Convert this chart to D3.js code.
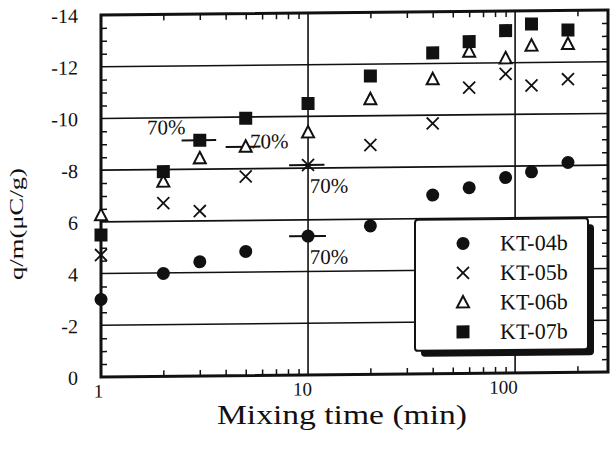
<!DOCTYPE html>
<html>
<head>
<meta charset="utf-8">
<script src="https://cdn.jsdelivr.net/npm/d3@7"></script>
<style>
  body { margin: 0; background: #fff; }
  svg { display: block; }
  text { font-family: "Liberation Serif", "Times New Roman", serif; fill: #111; }
</style>
</head>
<body>
<div id="chart"></div>
<script>
// mixing time (min)
const mixTimes = [1, 2, 3, 5, 10, 20, 40, 60, 90, 120, 180];
// q/m values (uC/g)
const kt04b = [-3.0, -3.98, -4.42, -4.8, -5.37, -5.74, -6.91, -7.18, -7.56, -7.77, -8.12];
const kt05b = [-4.72, -6.7, -6.38, -7.7, -8.12, -8.87, -9.68, -11.05, -11.57, -11.11, -11.34];
const kt06b = [-6.26, -7.53, -8.42, -8.85, -9.38, -10.64, -11.39, -12.44, -12.17, -12.65, -12.7];
const kt07b = [-5.49, -7.92, -9.12, -9.95, -10.5, -11.54, -12.41, -12.83, -13.24, -13.49, -13.24];
const seriesNames = ["KT-04b", "KT-05b", "KT-06b", "KT-07b"];

// horizontal range bars: [series, time, from, to]
const rangeBars = [
    ["KT-07b", 3, 2.45, 3.6],
    ["KT-06b", 5, 4.0, 5.9],
    ["KT-05b", 10, 8.1, 12.0],
    ["KT-04b", 10, 8.1, 12.2]
];
// "70%" notes: [time, q/m] of text start/baseline
const notes = [[1.67, -9.36], [5.25, -8.78], [10.2, -7.04], [10.2, -4.29]];

const yMajor = [0, -2, -4, -6, -8, -10, -12, -14];
const yTickLabels = ["0", "-2", "4", "6", "-8", "-10", "-12", "-14"];
const xMajor = [1, 10, 100];
const xTickLabels = ["1", "10", "100"];

const W = 611, H = 452;
const margin = { top: 15, right: 3, bottom: 75, left: 101 };
const innerW = W - margin.left - margin.right;
const innerH = H - margin.top - margin.bottom;

const svg = d3.select("#chart").append("svg")
    .attr("width", W)
    .attr("height", H);

// the scan is slightly tilted, right side higher
const plot = svg.append("g")
    .attr("transform", `translate(${margin.left},${margin.top}) skewY(-0.565)`);

const x = d3.scaleLog().domain([1, 281]).range([0, innerW]);
const y = d3.scaleLinear().domain([0, -14]).range([innerH, 0]);

const yMinor = d3.range(0, -14.01, -0.5).filter(v => !yMajor.includes(v));
const xMinor = [2, 3, 4, 5, 6, 7, 8, 9, 20, 30, 40, 50, 60, 70, 80, 90, 200];

// grid
plot.append("g").selectAll("line.hgrid")
    .data(yMajor.filter(v => v !== 0 && v !== -14))
    .join("line")
    .attr("x1", 0).attr("x2", innerW)
    .attr("y1", d => y(d)).attr("y2", d => y(d))
    .attr("stroke", "#111").attr("stroke-width", 1.6);

plot.append("g").selectAll("line.vgrid")
    .data([10, 100])
    .join("line")
    .attr("x1", d => x(d)).attr("x2", d => x(d))
    .attr("y1", 0).attr("y2", innerH)
    .attr("stroke", "#111").attr("stroke-width", 1.6);

// minor ticks, all pointing inward
const tickStyle = g => {
    g.select(".domain").remove();
    g.selectAll(".tick line").attr("stroke", "#111").attr("stroke-width", 1.5);
};
plot.append("g")
    .call(d3.axisRight(y).tickValues(yMinor).tickSize(6).tickFormat(""))
    .call(tickStyle);
plot.append("g")
    .attr("transform", `translate(${innerW},0)`)
    .call(d3.axisLeft(y).tickValues(yMinor).tickSize(6).tickFormat(""))
    .call(tickStyle);
plot.append("g")
    .call(d3.axisBottom(x).tickValues(xMinor).tickSize(6).tickFormat(""))
    .call(tickStyle);
plot.append("g")
    .attr("transform", `translate(0,${innerH})`)
    .call(d3.axisTop(x).tickValues(xMinor).tickSize(6).tickFormat(""))
    .call(tickStyle);

// tick labels
const yAxis = plot.append("g")
    .call(d3.axisLeft(y).tickValues(yMajor).tickSize(0).tickPadding(23)
        .tickFormat((d, i) => yTickLabels[i]));
yAxis.select(".domain").remove();
yAxis.selectAll("text").style("font-size", "20px").attr("dy", "0.35em");

const xAxis = plot.append("g")
    .attr("transform", `translate(0,${innerH})`)
    .call(d3.axisBottom(x).tickValues(xMajor).tickSize(0).tickPadding(7)
        .tickFormat((d, i) => xTickLabels[i]));
xAxis.select(".domain").remove();
xAxis.selectAll("text").style("font-size", "19px")
    .attr("dx", (d, i) => [-3, -6, -12][i]);

// frame
plot.append("rect")
    .attr("width", innerW).attr("height", innerH)
    .attr("fill", "none").attr("stroke", "#111").attr("stroke-width", 3);

// range bars
const seriesValues = { "KT-04b": kt04b, "KT-05b": kt05b, "KT-06b": kt06b, "KT-07b": kt07b };
plot.append("g").selectAll("line.range")
    .data(rangeBars)
    .join("line")
    .attr("x1", d => x(d[2])).attr("x2", d => x(d[3]))
    .attr("y1", d => y(seriesValues[d[0]][mixTimes.indexOf(d[1])]))
    .attr("y2", d => y(seriesValues[d[0]][mixTimes.indexOf(d[1])]))
    .attr("stroke", "#111").attr("stroke-width", 2);

// markers
function drawMarker(sel, name) {
    if (name === "KT-04b") {
        sel.append("circle").attr("r", 6.5).attr("fill", "#111");
    } else if (name === "KT-05b") {
        sel.append("path").attr("d", "M-6,-6L6,6M-6,6L6,-6")
            .attr("stroke", "#111").attr("stroke-width", 1.8).attr("fill", "none");
    } else if (name === "KT-06b") {
        sel.append("path").attr("d", "M0,-6.5L6,5L-6,5Z")
            .attr("stroke", "#111").attr("stroke-width", 2).attr("fill", "#fff");
    } else {
        sel.append("rect").attr("x", -6.5).attr("y", -6.5).attr("width", 13).attr("height", 13)
            .attr("fill", "#111");
    }
}

seriesNames.forEach(name => {
    plot.append("g").selectAll("g.pt")
        .data(mixTimes.map((t, i) => [t, seriesValues[name][i]]))
        .join("g")
        .attr("transform", d => `translate(${x(d[0])},${y(d[1])})`)
        .each(function () { drawMarker(d3.select(this), name); });
});

// 70% notes
plot.append("g").selectAll("text.note")
    .data(notes)
    .join("text")
    .attr("x", d => x(d[0])).attr("y", d => y(d[1]))
    .style("font-size", "21px")
    .text("70%");

// legend
const legend = plot.append("g").attr("transform", `translate(${415 - margin.left},${223 - margin.top})`);
const lw = 173, lh = 131;
legend.append("rect")
    .attr("x", 6).attr("y", 6).attr("width", lw).attr("height", lh).attr("rx", 4)
    .attr("fill", "#111");
legend.append("rect")
    .attr("width", lw).attr("height", lh).attr("rx", 3)
    .attr("fill", "#fff").attr("stroke", "#111").attr("stroke-width", 2);
const rows = legend.selectAll("g.row")
    .data(seriesNames)
    .join("g")
    .attr("transform", (d, i) => `translate(48,${24 + i * 29.5})`);
rows.each(function (d) { drawMarker(d3.select(this), d); });
rows.append("text")
    .attr("x", 37).attr("y", 7.5)
    .style("font-size", "22px")
    .text(d => d);

// axis titles
svg.append("text")
    .attr("x", 342).attr("y", 424)
    .attr("text-anchor", "middle")
    .attr("textLength", 250).attr("lengthAdjust", "spacingAndGlyphs")
    .style("font-size", "28px")
    .text("Mixing time (min)");

svg.append("text")
    .attr("transform", "translate(23,224) rotate(-90)")
    .attr("text-anchor", "middle")
    .attr("textLength", 112).attr("lengthAdjust", "spacingAndGlyphs")
    .style("font-size", "19px")
    .text("q/m(μC/g)");
</script>
</body>
</html>
